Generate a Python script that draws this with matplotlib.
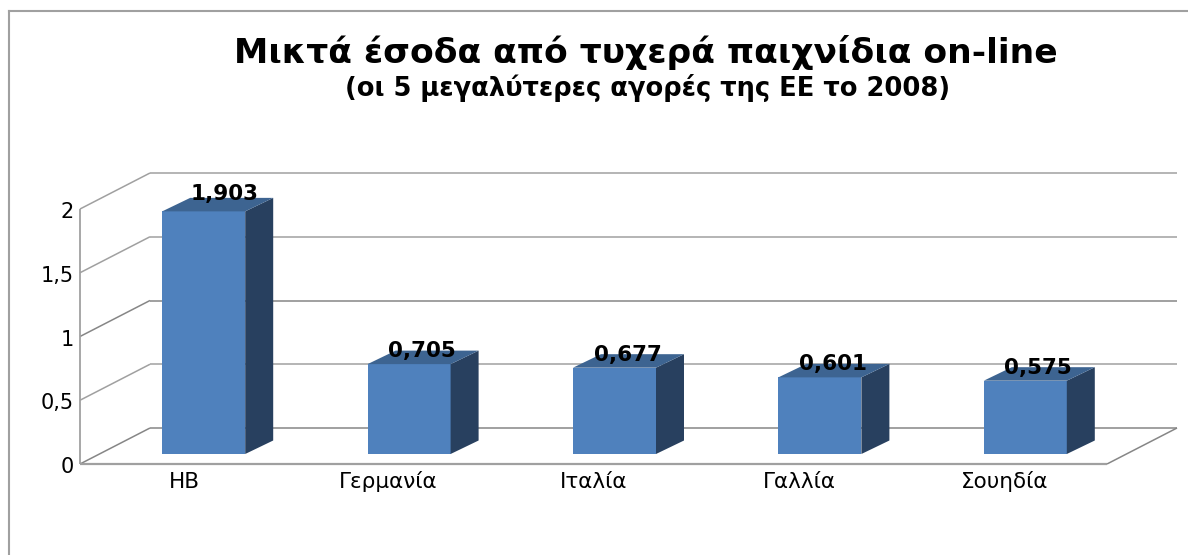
import matplotlib
matplotlib.use("Agg")
import matplotlib.pyplot as plt
from matplotlib.patches import Polygon
from matplotlib.lines import Line2D

categories = ["ΗΒ", "Γερμανία", "Ιταλία", "Γαλλία", "Σουηδία"]
values = [1.903, 0.705, 0.677, 0.601, 0.575]
value_labels = ["1,903", "0,705", "0,677", "0,601", "0,575"]
y_ticks = [0, 0.5, 1, 1.5, 2]
y_tick_labels = ["0", "0,5", "1", "1,5", "2"]
title = "Μικτά έσοδα από τυχερά παιχνίδια on-line"
subtitle = "(οι 5 μεγαλύτερες αγορές της ΕΕ το 2008)"

W, H = 1188, 555
plt.rcParams["font.family"] = ["DejaVu Sans"]
fig = plt.figure(figsize=(W / 100, H / 100), dpi=100, facecolor="white")

# frame: only top and left edges are visible in the crop
fig.add_artist(Line2D([9 / W, 9 / W], [0, 1 - 11 / H], color="#a0a0a0", lw=1.5))
fig.add_artist(Line2D([9 / W, 1], [1 - 11 / H, 1 - 11 / H], color="#a0a0a0", lw=1.5))

# front plane of the 3D box: x 80..1107, y 464 (0) .. 209 (2)
L, R, B, T = 80, 1107, 464, 209
ax = fig.add_axes([L / W, 1 - B / H, (R - L) / W, (B - T) / H])
ax.set_xlim(-0.5, 4.5)
ax.set_ylim(0, 2)
ax.axis("off")

px = (R - L) / 5
py = (B - T) / 2
wall_dx, wall_dy = 70 / px, 36 / py
bar_dx, bar_dy = 28 / px, 13.5 / py
shift = 21 / px
base = 10 / py
width = 83 / px
grid = "#a0a0a0"

def line(xs, ys, c=grid, lw=1.1, z=1):
    ax.plot(xs, ys, color=c, lw=lw, zorder=z, clip_on=False, solid_capstyle="butt")

for t in y_ticks:
    c = "#868686" if t in (0, 1) else grid
    line([-0.5, -0.5 + wall_dx], [t, t + wall_dy], c=c)
    line([-0.5 + wall_dx, 4.5 + wall_dx], [t + wall_dy, t + wall_dy], c=c)
line([-0.5, -0.5], [0, 2], lw=1.3)
line([-0.5, 4.5], [0, 0], lw=1.6)
line([4.5, 4.5 + wall_dx], [0, wall_dy], c="#868686")

xs = [i + shift for i in range(len(values))]
ax.bar(xs, values, width=width, bottom=base, color="#4f81bd", zorder=3, clip_on=False)
for i, (x, v, lab) in enumerate(zip(xs, values, value_labels)):
    l, r = x - width / 2, x + width / 2
    top = base + v
    ax.add_patch(Polygon([(r, base), (r + bar_dx, base + bar_dy), (r + bar_dx, top + bar_dy), (r, top)],
                         closed=True, fc="#28405f", ec="none", zorder=3, clip_on=False))
    ax.add_patch(Polygon([(l, top), (l + bar_dx, top + bar_dy), (r + bar_dx, top + bar_dy), (r, top)],
                         closed=True, fc="#3d6491", ec="none", zorder=3, clip_on=False))
    off = (21 if i == 0 else 13) / px
    rise = (11 if i == 0 else 7) / py
    ax.text(x + off, top + rise, lab, ha="center", va="baseline", fontsize=15.5, fontweight="bold",
            color="black", zorder=5, clip_on=False)

for t, lab in zip(y_ticks, y_tick_labels):
    ax.text(-0.53, t - 9 / py, lab, ha="right", va="baseline", fontsize=15, color="black", clip_on=False)
for i, lab in enumerate(categories):
    ax.text(i + (2 / px if i == 0 else 0), -24 / py, lab, ha="center", va="baseline", fontsize=15.5,
            color="black", clip_on=False)

fig.text(646 / W, 1 - 52 / H, title, ha="center", va="center", fontsize=24.8, fontweight="bold")
fig.text(648 / W, 1 - 88 / H, subtitle, ha="center", va="center", fontsize=18.5, fontweight="bold")

fig.savefig("out.png", dpi=100)
